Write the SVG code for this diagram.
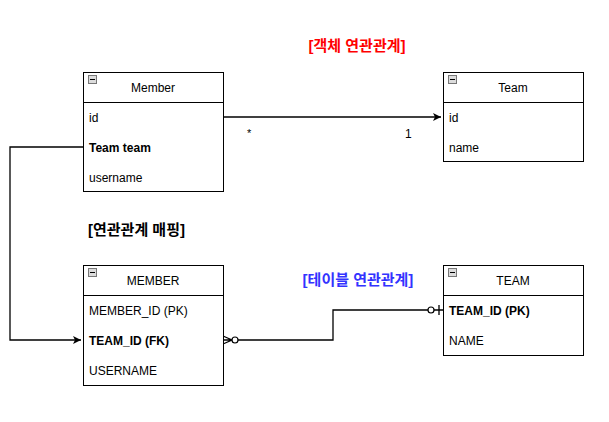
<svg xmlns="http://www.w3.org/2000/svg" width="609" height="422" viewBox="0 0 609 422">
<style>
.box{fill:#fff;stroke:#000;stroke-width:1}
.t{font-family:"Liberation Sans",Arial,sans-serif;font-size:12px;fill:#000}
.c{text-anchor:middle}
.b{font-weight:bold}
.ttl{font-family:"Liberation Sans","Noto Sans CJK KR",sans-serif;font-size:15px;font-weight:bold}
.ln{fill:none;stroke:#000;stroke-width:1.3}
.ic{fill:#dcdcdc;stroke:#777;stroke-width:1}
</style>
<defs>
<marker id="arr" viewBox="0 0 10 10" refX="10" refY="5" markerWidth="8" markerHeight="8" markerUnits="userSpaceOnUse" orient="auto">
<path d="M0,0 L10,5 L0,10 L2.5,5 Z" fill="#000"/>
</marker>
<g id="minus"><rect class="ic" x="0.5" y="0.5" width="8" height="8"/><line x1="2" y1="4.5" x2="7" y2="4.5" stroke="#000" stroke-width="1"/></g>
</defs>
<rect width="609" height="422" fill="#fff"/>
<text class="ttl" x="357" y="51" text-anchor="middle" fill="#ff0000">[객체 연관관계]</text>
<text class="ttl" x="88" y="235" fill="#000">[연관관계 매핑]</text>
<text class="ttl" x="358" y="285" text-anchor="middle" fill="#3333ff">[테이블 연관관계]</text>
<g id="connectors">
<path class="ln" d="M223,117 L441,117" marker-end="url(#arr)"/>
<text class="t" x="247" y="137" fill="#000" style="font-size:11px">*</text>
<text class="t" x="405" y="138" fill="#000">1</text>
<path class="ln" d="M83,147 L10,147 L10,340 L81,340" marker-end="url(#arr)"/>
<path class="ln" d="M238,340 L333,340 L333,310 L428,310"/>
<path class="ln" d="M223,336 L232,340 L223,344 M223,340 L232,340"/>
<circle cx="235" cy="340" r="3" fill="#fff" stroke="#000" stroke-width="1.2"/>
<circle cx="431" cy="310" r="3" fill="#fff" stroke="#000" stroke-width="1.2"/>
<path class="ln" d="M434,310 L443,310 M439,305 L439,315"/>
</g>
<g id="Member">
<rect class="box" x="83.5" y="72.5" width="140" height="119"/>
<line x1="83.5" y1="102.5" x2="223.5" y2="102.5" stroke="#000"/>
<use href="#minus" x="88" y="75"/>
<text class="t c" x="153" y="92">Member</text>
<text class="t" x="89" y="122">id</text>
<text class="t b" x="89" y="152">Team team</text>
<text class="t" x="89" y="182">username</text>
</g>
<g id="Team">
<rect class="box" x="443.5" y="72.5" width="140" height="89"/>
<line x1="443.5" y1="102.5" x2="583.5" y2="102.5" stroke="#000"/>
<use href="#minus" x="448" y="75"/>
<text class="t c" x="513" y="92">Team</text>
<text class="t" x="449" y="122">id</text>
<text class="t" x="449" y="152">name</text>
</g>
<g id="MEMBER">
<rect class="box" x="83.5" y="265.5" width="140" height="120"/>
<line x1="83.5" y1="295.5" x2="223.5" y2="295.5" stroke="#000"/>
<use href="#minus" x="88" y="268"/>
<text class="t c" x="153" y="285">MEMBER</text>
<text class="t" x="89" y="315">MEMBER_ID (PK)</text>
<text class="t b" x="89" y="345">TEAM_ID (FK)</text>
<text class="t" x="89" y="375">USERNAME</text>
</g>
<g id="TEAM">
<rect class="box" x="443.5" y="265.5" width="140" height="90"/>
<line x1="443.5" y1="295.5" x2="583.5" y2="295.5" stroke="#000"/>
<use href="#minus" x="448" y="268"/>
<text class="t c" x="513" y="285">TEAM</text>
<text class="t b" x="449" y="315">TEAM_ID (PK)</text>
<text class="t" x="449" y="345">NAME</text>
</g>
</svg>
